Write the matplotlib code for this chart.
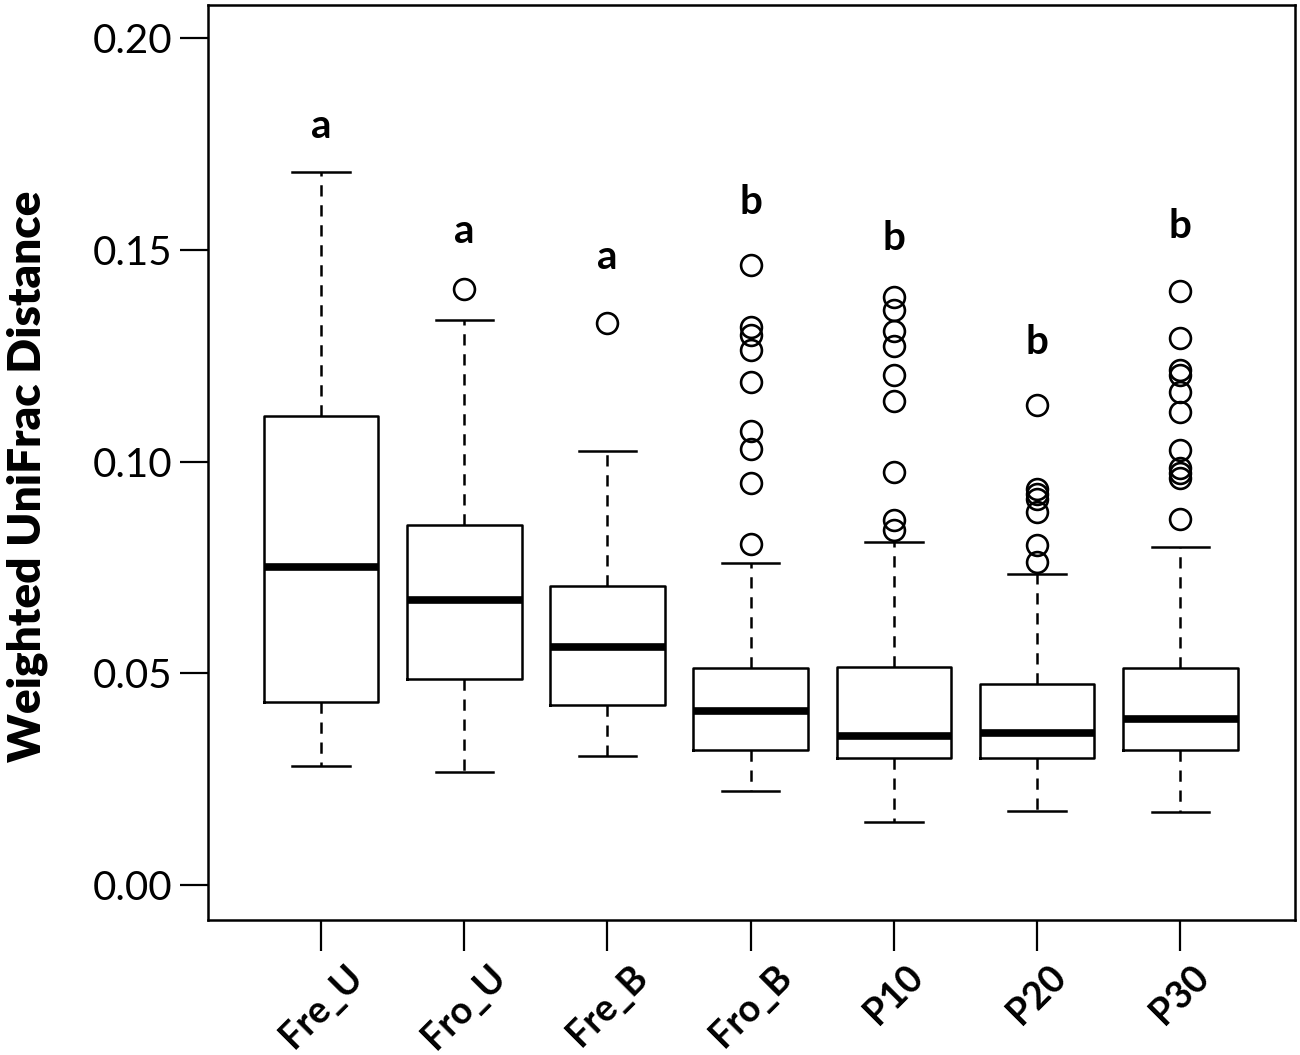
import matplotlib
matplotlib.use("Agg")
from matplotlib import pyplot as plt

plt.rcParams['font.family'] = ['Lato', 'DejaVu Sans']

groups = ["Fre_U", "Fro_U", "Fre_B", "Fro_B", "P10", "P20", "P30"]
whislo = [0.0281, 0.0267, 0.0305, 0.0222, 0.0149, 0.0175, 0.0172]
q1 = [0.0432, 0.0486, 0.0425, 0.0319, 0.0300, 0.0300, 0.0319]
med = [0.0751, 0.0673, 0.0562, 0.0411, 0.0352, 0.0359, 0.0392]
q3 = [0.1107, 0.0850, 0.0706, 0.0512, 0.0515, 0.0475, 0.0512]
whishi = [0.1684, 0.1334, 0.1025, 0.0760, 0.0810, 0.0734, 0.0798]
fliers = [
    [],
    [0.1407],
    [0.1327],
    [0.1464, 0.1318, 0.1299, 0.1263, 0.1188, 0.1072, 0.1030, 0.0949, 0.0805],
    [0.1388, 0.1358, 0.1308, 0.1273, 0.1204, 0.1143, 0.0975, 0.0862, 0.0838],
    [0.1133, 0.0935, 0.0923, 0.0911, 0.0881, 0.0803, 0.0763],
    [0.1403, 0.1292, 0.1216, 0.1204, 0.1164, 0.1117, 0.1027, 0.0985, 0.0973, 0.0961, 0.0864],
]
letters = ["a", "a", "a", "b", "b", "b", "b"]
letter_y = [0.1792, 0.1544, 0.1481, 0.1613, 0.1528, 0.1282, 0.1556]

stats = []
for i in range(len(groups)):
    stats.append(dict(label=groups[i], whislo=whislo[i], q1=q1[i], med=med[i],
                      q3=q3[i], whishi=whishi[i], fliers=fliers[i]))

fig = plt.figure(figsize=(13, 10.55), dpi=100)
ax = fig.add_axes([0.16, 0.128, 0.836, 0.867])

pos = list(range(1, len(groups) + 1))
ax.bxp(stats, positions=pos, widths=0.8,
       boxprops=dict(color='black', linewidth=1.8),
       medianprops=dict(color='black', linewidth=5.5, solid_capstyle='butt'),
       whiskerprops=dict(color='black', linewidth=1.8, linestyle=(0, (4.5, 3.5))),
       capprops=dict(color='black', linewidth=1.8),
       capwidths=0.4,
       flierprops=dict(marker='o', markersize=15, markerfacecolor='none',
                       markeredgecolor='black', markeredgewidth=1.9))

for i in range(len(groups)):
    ax.text(pos[i], letter_y[i], letters[i], ha='center', va='center',
            fontsize=29, fontweight='bold')

ax.set_xlim(0.21, 7.80)
ax.set_ylim(-0.0083, 0.2078)
ax.set_yticks([0.00, 0.05, 0.10, 0.15, 0.20])
ax.set_yticklabels(["0.00", "0.05", "0.10", "0.15", "0.20"])
ax.set_xticks(pos)
ax.set_xticklabels(groups, rotation=45, ha='center', fontweight='bold')
ax.tick_params(axis='y', length=20, width=1.6, labelsize=29, pad=6)
ax.tick_params(axis='x', length=22, width=1.6, labelsize=27, pad=6)
for s in ax.spines.values():
    s.set_linewidth(1.8)

ax.set_ylabel("Weighted UniFrac Distance", fontsize=33, fontweight='heavy')
ax.yaxis.set_label_coords(-0.147, 0.485)

fig.savefig("out.png", dpi=100)
